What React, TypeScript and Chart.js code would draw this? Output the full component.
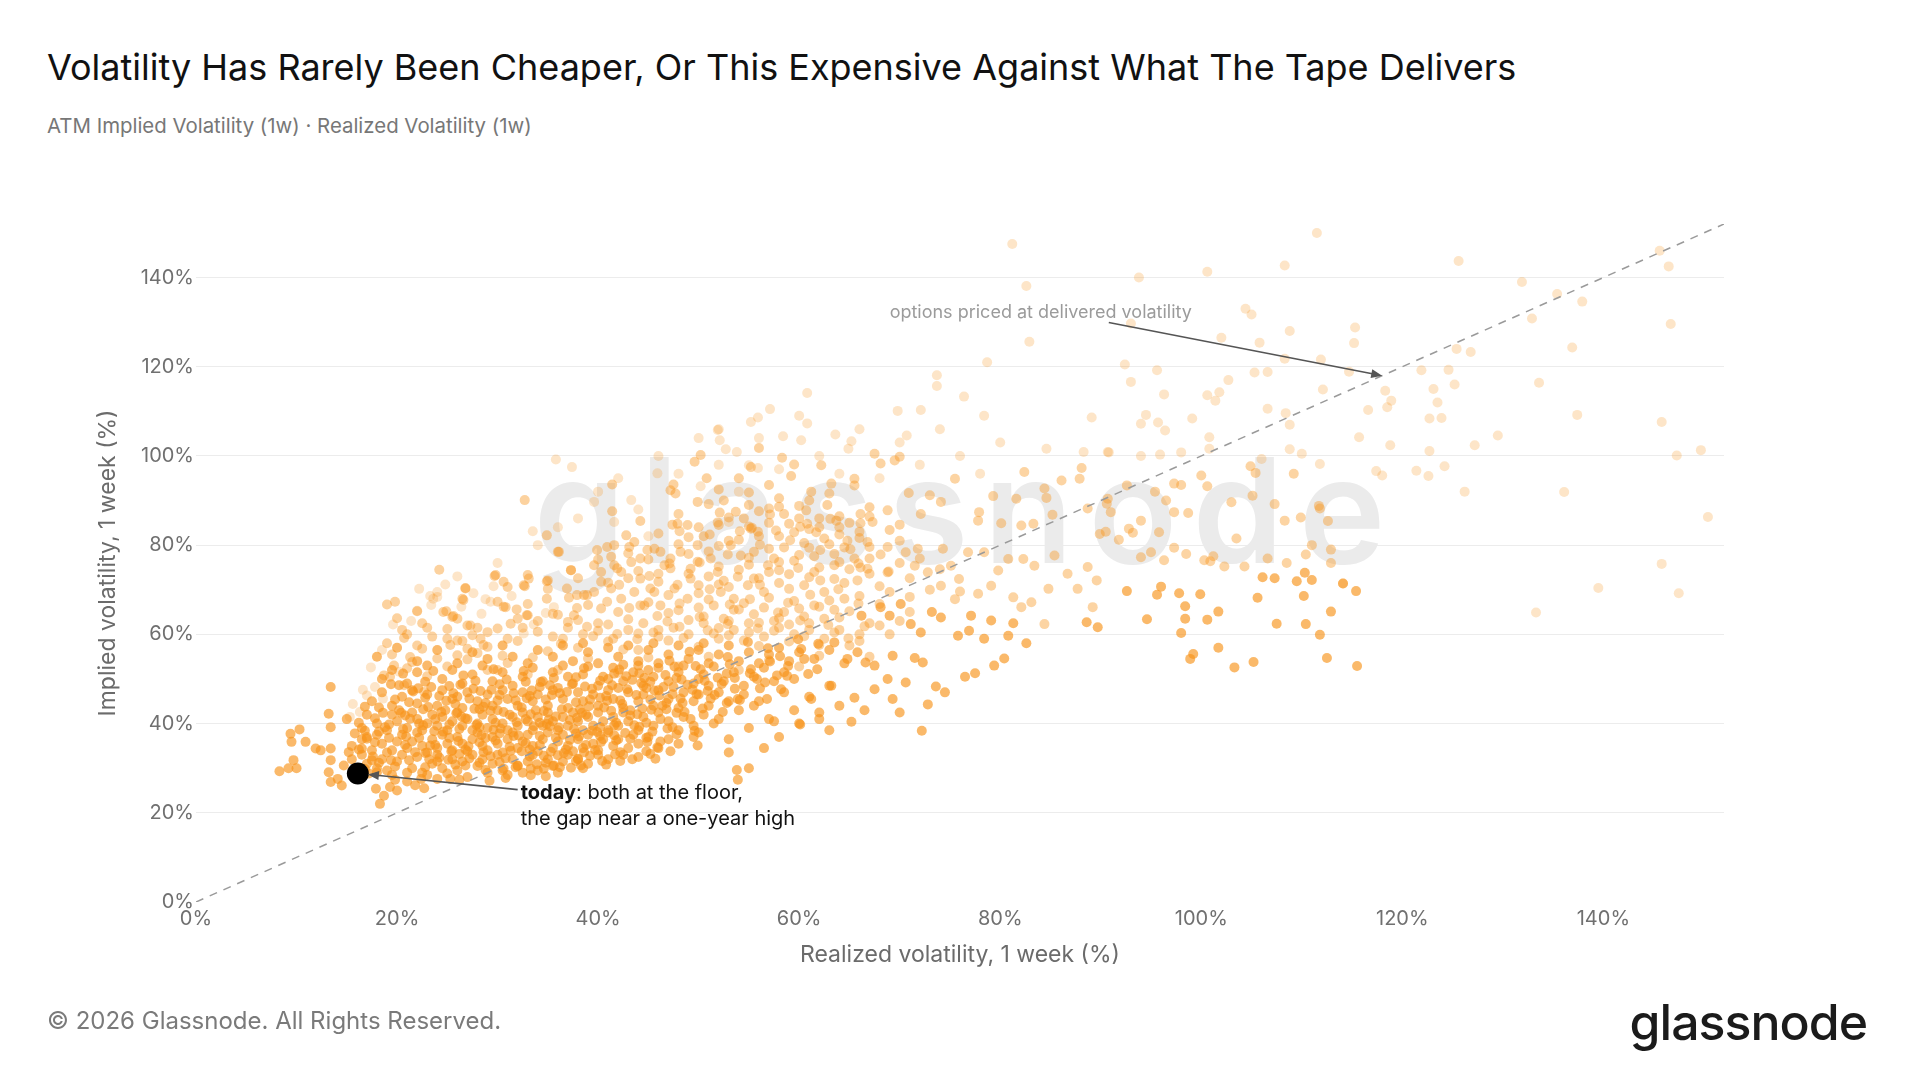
import React, { useEffect, useRef } from "react";
import { Chart, registerables } from "chart.js";

Chart.register(...registerables);

// ---------- text ----------
const TITLE = "Volatility Has Rarely Been Cheaper, Or This Expensive Against What The Tape Delivers";
const SUBTITLE = "ATM Implied Volatility (1w) · Realized Volatility (1w)";
const X_TITLE = "Realized volatility, 1 week (%)";
const Y_TITLE = "Implied volatility, 1 week (%)";
const FOOTER = "© 2026 Glassnode. All Rights Reserved.";
const BRAND = "glassnode";
const PARITY_NOTE = "options priced at delivered volatility";
const TODAY_BOLD = "today";
const TODAY_LINE1 = ": both at the floor,";
const TODAY_LINE2 = "the gap near a one-year high";

// ---------- axes ----------
const AXIS_MIN = 0;
const AXIS_MAX = 152;
const TICK_STEP = 20;

// ---------- data (realized %, implied %) pairs ----------
// today's reading
const todayPoint = [16.1, 28.8];
// parity line (implied = realized)
const parityLine = [0, 0, 152, 152];

// most recent observations (strong)
const recentLowLeft = [
  8.3,29.3, 9.4,37.7, 10.3,38.7, 9.5,35.9, 9.7,31.8, 9.2,30, 10,30, 10.9,35.9, 11.9,34.4, 12.4,34,
  13.4,48.2, 13.2,42.2, 13.4,39.2, 13.4,34.4, 13.4,31.8, 13.2,29.1, 13.4,26.9, 14.1,27.6, 14.5,26.1,
  14.7,30.6, 15.2,33.6, 16.5,34.4, 17,36.6, 17.5,31.8, 18,29.1, 17.9,25.4, 18.7,23.8, 18.3,22, 19.3,25.8,
  20,25, 21,27, 22.7,25.5, 24,27.6, 25.3,27.6, 30.6,29.9, 32,30.6, 33.3,28.4, 34.6,29.9, 35.6,30.6,
  33.3,29.9, 36,32.9, 38,32.1, 38.3,30.6, 40.3,35.9, 41.6,37.4, 44.9,35.9, 45.9,34.7, 45.7,32.1,
  49.9,35.1, 46.9,38.9, 48.6,42.6, 53.9,27.4, 53.8,29.6,
];
const recentCoreA = [
  17,31, 18.5,32, 19,29.5, 20,31.5, 20.5,33, 21.5,30, 22,32.5, 22.5,29, 23.5,31, 24,33, 24.5,30, 25.5,32,
  26,29.5, 26.5,31.5, 27.5,33, 28,30.5, 28.5,32, 29.5,31, 30,33, 30.5,29.5, 31.5,32, 32,30.5, 33,31.5,
  33.5,33, 34,29.5, 35,32, 35.5,30.5, 36.5,31.5, 37,33, 38,32, 39,31, 40,33, 41,32, 42.5,33, 44,32.5,
  19.5,28.5, 23,28.5, 27,28, 31,28.5, 18,30, 21,29, 25,28.8, 29,29, 32.5,29, 36,29, 38.5,30, 16.5,33,
  15.5,32, 24,31.5, 28.2,31.2,
  15.5,35, 16.5,36.5, 17.5,34, 18,37.5, 18.5,35.5, 19.5,34, 20,36, 20.5,37.5, 21,34.5, 21.5,36, 22,38,
  22.5,35, 23,33.5, 23.5,36.5, 24,34.5, 24.5,37.5, 25,35.5, 25.5,34, 26,37, 26.5,35.5, 27,33.8, 27.5,36.5,
  28,38, 28.5,35, 29,34, 29.5,37, 30,35.5, 30.5,33.5, 31,36.5, 31.5,38, 32,34.5, 32.5,36, 33,37.5,
  33.5,35, 34,33.8, 34.5,36.5, 35,38, 35.5,34.5, 36,36, 36.5,37.5, 37,35, 37.5,33.8, 38,36.5, 38.5,34.5,
  39,37.5, 39.5,35.5, 40,34, 40.5,36.5, 41,38, 41.5,35, 42,36.5, 43,34.5, 43.5,37.5, 44,35.5, 45,37,
  46,34.5, 47,36.5, 48,35.5, 49.5,37, 19,33.5, 22.8,33.4, 26.2,33.2, 30.2,37.8, 34.2,37.2, 37.8,37.8,
  42.2,33.6, 44.8,33.8, 17,37, 28.8,36.8, 33.2,34.2, 36.8,34.2,
];
const recentCoreB = [
  15,41, 16.5,39, 17,42, 18,40, 19,38.5, 19.5,42, 20,40.5, 21,39, 21.5,42.5, 22,41, 22.5,38.5, 23,40,
  23.5,42, 24,39.5, 24.5,41.5, 25,38.5, 25.5,40.5, 26,42.5, 26.5,39.5, 27,41, 27.5,38.5, 28,40, 28.5,42,
  29,39, 29.5,41, 30,43, 30.5,40, 31,38.5, 31.5,41.5, 32,39.5, 32.5,42.5, 33,40.5, 33.5,38.5, 34,41.5,
  34.5,39.5, 35,42.5, 35.5,40.5, 36,38.5, 36.5,41.5, 37,39.5, 37.5,42.5, 38,40.5, 38.5,38.5, 39,41.5,
  39.5,39.5, 40,42.5, 40.5,40.5, 41,38.5, 41.5,41.5, 42,39.5, 42.5,42.5, 43,40.5, 44,38.5, 44.5,41.5,
  45.5,39.5, 46,42.5, 47,40.5, 48,38.5, 48.5,41.5, 49.5,39.5, 50.5,42, 51.5,40, 20.2,43, 24.8,43,
  28.2,43.2, 33.8,43, 38.2,43.2, 43.2,43, 46.8,43.2, 18.2,38.2,
  17.5,45, 18.5,47, 19.5,44, 20.5,46, 21.5,47.5, 22,44.5, 23,46.5, 24,44, 24.5,47.5, 25.5,45.5, 26.5,43.5,
  27,47, 28,45, 29,46.5, 29.5,44, 30.5,47.5, 31,45.5, 32,44, 32.5,47, 33.5,45, 34,46.5, 35,44, 35.5,47.5,
  36.5,45.5, 37,43.5, 38,47, 38.5,45, 39.5,46.5, 40,44, 41,47.5, 41.5,45.5, 42.5,43.5, 43,47, 44,45,
  44.5,46.5, 45.5,44, 46,47.5, 47,45.5, 48,43.5, 48.5,47, 49.5,45, 50,46.5, 51,44, 52,47, 53,45, 54.5,46.5,
  55.5,44, 36,48, 42,48, 46.5,48.2, 26,46, 30,45.2, 34.2,48.2, 40.2,45.8, 44.8,48,
];
const recentCoreC = [
  18.5,50, 19.5,52, 21,49, 22,51.5, 23,53, 24.5,50, 25.5,52, 26.5,49, 27.5,51, 28.5,53, 29.5,49.5,
  30.5,51.5, 31.5,48.5, 32.5,50.5, 33.5,52.5, 34.5,49.5, 35.5,51.5, 36.5,53, 37.5,49, 38.5,51, 39,52.8,
  40,48.5, 40.5,50.5, 41.5,52.5, 42.5,49.5, 43.5,51.5, 44.5,48.5, 45.5,50.5, 46,52.5, 47,49.5, 48,51.5,
  48.5,53, 49.5,49, 50.5,51, 51.5,52.8, 52.5,49.5, 53.5,51.5, 54.5,48.5, 55.5,50.5, 56.5,52.5, 57.5,49.5,
  58.5,51.5, 59.5,50, 44,53, 47.5,48.2, 51,48.5, 37,50.5, 41,50, 45,52, 50,50,
  18,55, 20,57, 22,54, 24,56.5, 26,53.5, 27.5,56, 29,54.5, 30.5,57.5, 31.5,55, 33,53.5, 34,56.5, 35.5,55,
  36.5,57.5, 37.5,54, 39,56, 40,53.5, 41,57, 42,55, 43,57.5, 44,54, 45,56.5, 46,53.5, 47,55.5, 48,57.5,
  49,54.5, 50,56.5, 51,53.5, 52,55.5, 53,57.5, 54,54, 55,56, 56,53.5, 57,55.5, 58,57, 59,54, 60,56,
  61.5,54.5, 63,56.5, 64.5,53.5, 45.5,58, 50.5,58, 38.5,58, 42.5,53.2,
  50,38, 52,41, 53,36.5, 54,43, 55,39, 56,45, 57,41, 58,37, 58.5,47, 59.5,43, 60,40, 61,46, 62,42.5,
  63,48.5, 64,44, 53,33.5, 55,30, 56.5,34.5, 72.2,38.4, 65.2,40.4, 60.1,39.8, 62,41, 66.5,43, 70,42.5,
  74.5,47, 76.5,50.5, 57.5,40.5, 63,38.5,
];
const recentCoreD = [
  16.8,29.8, 18.2,31.2, 19.8,30.4, 21.2,31.8, 22.8,30.2, 24.2,32.4, 25.8,30.8, 27.2,32.2, 28.8,29.6,
  30.2,31.4, 31.8,30.2, 33.2,32.6, 34.8,31.2, 36.2,30.2, 37.8,31.6, 39.2,32.8, 40.8,30.8, 42.2,31.6,
  16.2,34.2, 17.8,35.8, 19.2,36.8, 20.8,35.2, 22.2,36.8, 23.8,35.2, 25.2,36.8, 26.8,34.2, 28.2,35.8,
  29.8,36.2, 31.2,34.8, 32.8,35.6, 34.2,35.2, 35.8,36.8, 37.2,36.4, 38.8,35.2, 40.2,37.2, 41.8,36.2,
  43.2,36.6, 44.8,36.8, 46.2,36, 47.8,37.6,
  16.2,40.2, 17.8,41.2, 19.2,39.8, 20.8,41.8, 22.2,40, 23.8,41, 25.2,39.8, 26.8,41.2, 28.2,39.2,
  29.8,40.2, 31.2,42, 32.8,41, 34.2,40.2, 35.8,41.6, 37.2,40.8, 38.8,42, 40.2,39.2, 41.8,40.2, 43.2,41.8,
  44.8,40.2, 46.2,41, 47.8,42.4, 49.2,41,
  18.2,43.6, 19.8,45.4, 21.2,44.8, 22.8,45.8, 24.2,46.2, 25.8,44.4, 27.2,45.6, 28.8,44.6, 30.2,46.4,
  31.8,45.2, 33.2,46.2, 34.8,45.4, 36.2,46.8, 37.8,44.8, 39.2,45.4, 40.8,46.2, 42.2,45.2, 43.8,46.4,
  45.2,45.4, 46.8,44.6, 48.2,45.6, 49.8,46.6, 51.2,45.6, 52.8,44.6,
  20.2,48.6, 22.8,49.4, 25.2,48.4, 27.8,49.6, 30.2,48.8, 32.8,49.4, 35.2,48.6, 37.8,50.4, 40.2,49.6,
  42.8,50.6, 45.2,49.4, 47.8,50.2, 50.2,52.2, 52.8,51.2, 55.2,52.2, 57.8,50.8,
];
const recentCoreE = [
  17.6,32.6, 19.4,31.8, 21.8,33.6, 23.2,32, 25.4,33.8, 26.8,30.6, 28.6,33.6, 30.8,32.2, 32.4,33.8,
  34.6,32.8, 36.6,33.4, 38.6,33.6, 40.4,31.6, 43.4,32, 45.2,33.2, 47.2,33.8,
  16.8,38.4, 18.8,39.2, 20.6,38.8, 22.6,39.6, 24.6,38.2, 26.2,38.8, 28.4,37.4, 29.6,38.6, 31.6,37.2,
  33.6,39.4, 35.2,39.4, 37.6,38.8, 39.4,38.4, 41.6,39.6, 43.6,39.6, 45.4,38.2, 47.4,39.2, 49.6,38.4,
  18.6,42.4, 20.4,42.4, 22.6,43.2, 24.4,42.6, 26.4,41.6, 28.6,43.8, 30.6,42.6, 32.4,43.6, 34.6,42.8,
  36.4,43.2, 38.4,42.4, 40.6,43.6, 42.4,44.4, 44.4,43.4, 46.4,44, 48.4,44.6, 50.4,43.4, 52.4,42.6,
  19.4,48.8, 21.6,47.2, 23.4,48.2, 25.6,46.8, 27.6,47.8, 29.4,47.6, 31.6,46.8, 33.4,47.4, 35.4,46.4,
  37.4,48.8, 39.4,47.8, 41.4,48.6, 43.4,49.8, 45.6,47.4, 47.4,46.6, 49.4,47.6, 51.6,46.4, 53.6,47.8,
  20.6,51.2, 23.6,51.8, 26.6,50.8, 29.6,52.2, 32.6,51.8, 35.6,50.2, 38.6,52.4, 41.6,51.2, 44.6,50.2,
  47.6,52.8, 50.6,49.6, 53.6,50.2, 56.6,49.2,
  15.8,37.8, 16.8,43.8, 17.2,28.8, 19.8,27.4, 22.4,27.6, 26.2,27.4, 30.8,27.8, 34.8,28.2, 29.2,27.2, 21.8,26.2,
];
const recentCoreF = [
  20.9,37.1, 23.7,38.3, 26.1,36.1, 27.9,39.7, 30.3,38.9, 32.1,37.3, 34.9,39.9, 36.1,39.1, 38.1,37.1,
  39.9,38.1, 42.7,37.9, 44.1,39.3,
  21.3,41.1, 23.1,43.7, 25.9,42.3, 27.7,43.3, 29.3,42.9, 31.9,40.3, 33.3,42.1, 35.1,40.9, 37.9,41.3,
  39.1,43.9, 41.3,42.9, 43.9,42.1, 45.3,43.1,
  22.1,47.9, 24.9,45.1, 26.3,48.7, 28.3,47.3, 30.9,49.9, 32.9,45.7, 34.3,49.3, 36.9,47.1, 38.7,48.3,
  40.9,45.1, 42.9,47.7, 44.3,49.1, 46.1,46.3, 48.9,48.7, 50.9,47.3, 52.3,48.9, 54.1,45.3, 56.1,47.9,
  23.3,35.1, 25.1,31.9, 27.1,34.9, 29.3,32.7, 31.3,33.9, 33.9,30.9, 35.3,33.7, 37.3,30.1, 39.7,34.1, 41.7,33.1,
  42.1,52.1, 44.1,51.3, 46.7,50.9, 48.3,49.9, 49.7,52.9, 51.9,50.3, 53.1,53.3, 55.1,51.3, 57.1,53.9,
  58.9,52.9, 60.9,51.1, 47.1,54.1, 49.1,56.1, 52.9,54.9, 56.9,56.9, 54.9,58.3, 58.1,55.1, 61.9,57.9, 59.9,58.9,
];
const recentBelowParity = [
  73.2,65, 74.1,63.8, 71.1,62.3, 72.1,60.4, 70.1,66.8, 68.1,66.1, 69,64.2, 66.2,64.2, 77.1,64.2, 76.9,60.8,
  79.1,63.1, 81.3,62.5, 80.8,59.7, 88.6,62.7, 89.7,61.6, 82.6,58, 75.8,59.7, 78.4,59, 80.4,54.6, 79.4,53,
  77.5,51.3, 73.6,48.3, 72.8,44.3, 71.5,54.7, 72.3,53.7, 70.6,49.2, 69.3,55.2, 69.3,45.5, 67.5,53, 68.8,50,
  67.5,47.7, 65.8,56, 66.6,53.7, 65.5,45.8, 63.5,58.2, 64.8,54.5, 63.2,48.5, 61.8,52.2, 61.2,45.5,
  60.2,56.7, 60.5,54.5, 58.8,50.7, 58.2,47.7, 55.8,50, 56.8,45.5, 53.9,45.5,
  110.3,73.8, 106.1,72.8, 107.3,72.6, 109.5,71.9, 111,72.2, 114.1,71.4, 115.4,69.7, 92.6,69.7, 96,70.7,
  95.6,68.9, 97.8,69.2, 99.9,69, 105.6,68.2, 110.2,68.6, 112.9,65.1, 98.4,66.3, 98.4,63.5, 101.7,65.1,
  94.6,63.4, 100.6,63.3, 107.5,62.4, 110.4,62.3, 98,60.3, 111.8,59.9, 101.7,57, 99.2,55.6, 98.9,54.5,
  103.3,52.6, 105.2,53.8, 112.5,54.7, 115.5,52.9,
];

// middle-aged observations
const middleUpperBand = [
  21,60, 23,61.5, 25,59, 27,62, 29,60.5, 31,59, 32.5,61.5, 34,63, 35.5,59.5, 37,61.5, 38.5,60, 40,62.5,
  41.5,59, 43,61, 44.5,62.5, 46,59.5, 47.5,61.5, 49,60, 50.5,62.5, 52,59, 53.5,61, 55,62.5, 56.5,59.5,
  58,61.5, 59.5,60, 61,62.5, 62.5,59, 64,61, 66,60, 68,62,
  19.8,67.3, 24.2,74.5, 22,65.2, 24.6,65, 25.5,63.9, 26,63.5, 20.7,59.2, 21.3,54.9, 21.5,53.8, 19.7,53,
  18.7,50.8, 19.3,50.5, 20.7,48.6, 22.5,56.8, 22.7,47.1, 26.6,67.7, 26.8,70.3, 27.3,62, 29.8,73.3,
  30.6,71.8, 32.6,71, 33,73.3, 35,72.1, 36,78.5, 37.3,74.4, 30,67.3, 30.6,66.2, 33,64.3, 32,63.5, 30,61.3,
  31.3,62.4, 28.3,59, 28.6,57.6, 25.3,57.6, 26,55.3, 24,54.6, 27,56.8, 38.6,68.8, 40.3,71.8, 41.6,80,
  43.6,80.7, 41.9,74.8, 44.2,77, 46.2,78.5, 47.2,74.8, 49.9,76.3, 49.2,72.5, 45.2,70.3, 44.6,66.5,
  19,58, 20.5,61, 22,57.5, 23.5,59.5, 25,61.2, 26.5,58.5, 28,61.5, 19.5,55.5, 21,52.4, 23,50.6, 25,52.8,
  27,54.4, 29,52, 31,53.6, 20,63.6, 22.5,62.5, 27.5,59.8,
];
const middleMidBand = [
  32.7,90.1, 41.4,93.6, 50.2,100.2, 49.6,98.7, 56,101.8, 47.5,93.6, 47.7,91.6, 47.2,92.3, 49.9,89.7,
  52.1,87.3, 53.7,87.5, 41.4,87.6, 44.2,85.4, 42.8,82.2, 43.1,79.6, 47.4,84.6, 47.9,84.8, 48.9,84.5,
  51.1,82.4, 55.3,83.9, 55.9,83, 34.9,82.2, 36.1,78.5, 37.3,74.4, 32.7,70.8, 33.1,72.5, 34.9,71.9,
  29.7,73.1, 31,70.6, 26.8,70.4, 26.5,68, 19,66.7, 24.9,65.2, 25.6,64.1, 30.8,66.1, 31.9,65.6, 32.9,64.3,
  37.1,68.2, 37.9,68.8, 38.9,68.8, 39.9,78.9, 40.9,79.6, 41.3,77.4, 39.6,75.5, 40.3,74, 41.6,75.5, 42.3,74,
  43.3,76.2, 44.2,72.5, 45.6,79.2, 46.6,75.5, 47.2,77, 48.2,78.5, 49.2,74.7, 49.9,80, 51.2,77, 51.9,74,
  53.2,80, 54.2,77.7, 55.5,78.5, 56.9,75.5, 52.2,69.5, 53.5,68, 54.9,71, 56.5,69.5, 47.6,70.3, 48.9,68,
  45.6,69.5, 46.2,66.5, 43.6,69.5, 44.2,66.5, 41.3,70.3, 42.3,68, 39.6,69.5, 40.3,65.8, 36.9,70.3,
  37.6,64.3, 34.9,68,
  50.5,64, 51.5,66.5, 52.5,63.5, 53.5,65.5, 54.5,67, 55.5,64.5, 56.5,66, 57.5,63, 58.5,65, 59.5,67.5,
  60.5,64, 61.5,66.5, 62.5,63.5, 63.5,65.5, 64.5,68, 50,71, 51,73, 52.5,72, 54,74.5, 55.5,72.5, 57,74,
  58,71.5, 59,73.5, 60.5,71, 61.5,74, 62.5,69.5, 63.5,75.5, 64.5,71.5, 57.5,77, 58.5,79.5, 59.5,76.5,
  60.5,80.5, 61.5,77.5, 62.5,81.5, 63.5,78, 64.5,79.5, 50.5,82, 52,84.5, 53,81, 54.5,86, 56,82, 57,85,
  58.5,87, 60,86, 62,84, 64,86.5, 66,83, 67,77, 65.5,77, 62.8,89, 58,90.5, 55,89, 52.5,90, 50.8,95,
  61.2,92, 57,93.5, 54,95, 59.2,95.5,
];
const middleFill = [
  30,52, 33,51, 36,52, 39,54.6, 42,51.4, 45,54.8, 48,52.8, 51,55, 54,52, 57,54.2, 60,52.8, 62,55.2, 65,57.5,
  67,55, 29,57.2, 32,58.5, 35,56.2, 38,57, 41,58.4, 44,56.5, 47,58.6, 50,57.2, 53,59.8, 56,57.4, 59,58.4,
  62,57.6, 66,58.5, 69,60, 34,60.6, 37,62.8, 40,60.8, 43,63.4, 46,61, 49,63.2, 52,61.4, 55,60.4, 58,63.6,
  61,61, 64,63.8, 67,62.5, 70,63, 36,64.4, 39,66.6, 42,65, 45,67.2, 48,65.4, 51,67.8, 54,65.6, 57,68.2,
  60,65.8, 63,67.6, 66,68.6, 69,69.5, 43,72.6, 46,71.8, 49,73.6, 52,71.2, 55,75.6, 58,74.4, 61,72.8,
  64,76.2, 67,73.6, 70,76, 45,76.8, 48,80.2, 51,78.6, 54,81.2, 57,79.2, 60,77.8, 63,80.2, 66,81.6, 69,83.4,
  50,84, 53,86.2, 56,87.6, 59,84.8, 62,86, 65,85, 67,88.5, 52,92.5, 55,91.8, 58,88.6, 61,90,
];
const middleFill2 = [
  26,58.6, 28,55.8, 30.5,55.2, 33.5,54.8, 36.5,59, 39.5,59.6, 42.5,56.6, 45.5,60.4, 48.5,59.2, 51.5,60.2,
  54.5,58.6, 57.5,60.8, 60.5,59.6, 63.5,60.4, 66.5,61.8,
  33,66.8, 35.5,64.6, 38,63.2, 41,62.2, 44,60.2, 47,64.8, 50,66, 53,63, 56,62.6, 59,62.2, 62,66.2, 65,65.2,
  68,66.8, 71,65,
  35,70.2, 38,72.6, 41,71.6, 44,74.2, 47,68.8, 50,69.2, 53,70.6, 56,72.6, 59,70.2, 62,75, 65,74.6, 68,70.8,
  71,72.6, 40,76.8, 43,78.2, 46,73.6, 49,78, 52,75.2, 55,77.2, 58,76.2, 61,79.4, 64,82.4, 67,79.6, 70,81,
  46,82.6, 49,81.8, 52,79.8, 55,84.2, 58,82, 61,83.6, 64,84, 67,86.4, 70,84.6, 48,87, 51,89.2, 57,88.2,
  60,88.8, 63,91.6, 71,68.4, 73,70, 72,77, 74,74.6, 76,69.6,
];
const middleFill3 = [
  36.3,57.9, 38.9,61.7, 41.9,60.1, 43.9,58.9, 46.9,62.9, 48.1,61.7, 50.9,60.9, 52.9,62.3, 55.9,61.3,
  57.9,64.9, 60.1,63.1, 62.9,62.1, 64.9,59.1,
  37.9,65.9, 40.9,67.3, 43.1,65.9, 45.9,64.1, 48.1,66.9, 50.1,63.9, 53.1,66.7, 55.1,67.9, 58.9,67.1,
  61.1,68.9, 63.9,70.1, 65.9,66.9,
  42.1,71.1, 45.1,73.1, 47.9,71.1, 51.1,70.1, 53.9,72.9, 56.1,71.1, 59.9,74.9, 62.1,72.1, 65.9,75.9, 68.9,74.1,
  44.9,78.9, 47.1,75.9, 50.1,76.1, 52.9,77.9, 56.1,80.1, 59.1,81.1, 62.1,78.9, 65.1,79.1, 68.1,77.9,
  48.1,83.1, 51.9,85.1, 54.1,83.1, 57.1,86.9, 60.1,84.1, 63.1,85.9, 66.1,84.9,
];
const middleRightBand = [
  58.3,99.6, 59.5,98.1, 55.2,97.5, 62.2,97.9, 67.5,100.5, 70,99.8, 69.5,99, 68.1,98.3, 82.4,96.4, 75.5,94.9,
  88.1,97.3, 87.9,94.9, 86.1,94.5, 65.5,94.9, 65.5,93.4, 63.2,93.8, 70.9,91.7, 73,91.2, 74.1,89.7, 79.3,91,
  81.6,90.4, 84.4,92.7, 84.6,90.6, 90.7,90.4, 60.7,87.8, 63.7,85.5, 66.1,87, 67.3,85.2, 68.8,87.8, 72.1,87,
  77.9,87.4, 77.8,85.5, 80.1,84.9, 82.1,84.4, 83.3,84.8, 85.2,86.8, 88.7,88.2, 89.9,82.5, 55.2,83.7,
  57.7,83.3, 59.5,82.9, 60.8,84.8, 61.7,82.9, 64.8,81, 66.8,80.7, 68.8,79.6, 70.6,78.4, 71.8,79.2,
  74.3,79.2, 75.1,75.4, 76.8,78.4, 78.4,78.4, 79.8,74.3, 80.8,76.9, 82.3,76.9, 83.4,75.4, 85.4,77.7,
  86.7,73.6, 88.7,75.1, 89.6,72.1, 71.5,75.4, 72.8,73.9, 68.8,73.9, 66.8,74.7, 65.8,72.1, 66.1,75,
  63.5,72.4, 74.1,70.9, 75.9,72.4, 77.8,69.1, 79.1,70.9, 81.3,68.3, 82.1,66.1, 83.1,67.2, 87.7,70.2,
  89.2,66.1, 84.8,70.2, 75.5,67.9, 84.4,62.3,
  92.6,93.4, 95.4,92, 96.5,90, 90.6,89.3, 91,87.4, 94,85.5, 97.3,87.4, 98.7,87.2, 103,89.6, 105.1,91.1,
  107.3,89.2, 111.7,88.8, 111.8,88.2, 109.9,86.2, 108.3,85.5, 112.6,85.4, 92.8,83.7, 93.2,82.8, 90.5,83,
  91.8,81.2, 95.8,82.9, 103.5,81.5, 111,80, 97.3,79.4, 112.9,79, 95,78.4, 94,77.3, 96.3,76.6, 98.5,78,
  100.3,76.6, 101.2,77.5, 100.9,76.4, 102.3,75.2, 104.3,75.2, 106.6,77, 108.5,76, 110.4,77.9, 112.9,76,
  105.4,96.2, 104.9,97.7, 109.2,96, 100,95.6, 97.3,93.8, 98,93.5, 100.6,93.2,
];

// older observations (faint)
const olderHigh = [
  111.5,150, 125.6,143.7, 108.3,142.7, 93.8,140, 100.6,141.3, 131.9,139, 146.5,142.5, 145.6,146, 135.4,136.3,
  137.9,134.6, 146.7,129.6, 104.4,133, 105,131.7, 108.8,128, 115.3,128.8, 115.2,125.3, 132.9,130.8,
  136.9,124.3, 125.4,124, 126.8,123.3, 102,126.5, 105.8,125.4, 93,129.7, 108.3,121.8, 111.9,121.6,
  114.7,118.9, 92.4,120.5, 95.6,119.2, 93,116.6, 96.3,113.8, 105.3,118.7, 106.6,118.8, 102.7,117,
  100.6,113.6, 101.4,112.4, 101.8,114.3, 112.1,114.9, 118.3,114.6, 118.9,112.4, 118.5,110.9, 116.6,110.3,
  123.1,115, 125.2,116, 124.6,119.3, 121.9,119.2, 123.5,112, 122.7,108.4, 123.9,108.5, 133.6,116.4,
  137.4,109.2, 145.8,107.6, 129.5,104.6, 127.2,102.4, 147.3,100.1, 149.7,101.3, 106.6,110.6, 108.4,109.6,
  108.8,107, 99.1,108.4, 94,107.2, 94.5,109.2, 95.7,107.5, 96.4,105.7, 100.8,104.2, 115.7,104.2,
  118.8,102.4, 122.7,101.1, 90.8,100.8, 94,100, 95.9,100.3, 98,100.8, 100.8,101.6, 108.8,101.5, 110,100.5,
  106,99.3, 111.8,98.2, 118,95.6, 117.4,96.6, 121.4,96.7, 124.2,97.7, 122.6,95.5, 126.2,92, 136.1,91.9,
  150.4,86.3, 145.8,75.8, 139.5,70.4, 147.5,69.2, 133.3,64.9, 114.1,71.4,
];
const olderMid = [
  81.2,147.5, 82.6,138.1, 82.9,125.6, 78.7,121, 73.7,118.1, 73.7,115.7, 76.4,113.3, 60.8,114.1, 72.1,110.3,
  69.8,110.1, 78.4,109, 89.1,108.6, 57.1,110.5, 55.9,108.6, 55.2,107.6, 60.8,107.3, 70.7,104.6, 63.6,104.8,
  51.9,105.8, 58.4,104.4, 60.2,103.5, 65.2,103.3, 64.9,101.6, 52.7,101.5, 53.8,100.9, 84.6,101.6,
  88.3,100.9, 90.7,100.9,
  35.8,99.2, 37.4,97.5, 52,106, 52.1,103.5, 55,97.9, 55.9,97.3, 50.2,93.2, 45.9,96.1, 39.6,89.7, 43.3,90.1,
  41.6,85.2, 53,85.2, 33.5,83.1, 23.3,68.6, 24,69.5, 22,65.3, 28.8,67.9, 29.3,67.3, 35.6,66.1,
  15.3,41.5, 16.3,42.6, 17,46.3, 23.6,68, 24,68.4,
  38,86, 40,92, 42,95, 44,88, 46,100, 48,96, 50,104, 52,98, 54,92, 56,104, 58,97, 60,109, 62,100, 64,96,
  66,106, 68,95, 70,103, 72,98, 74,106, 76,100, 78,96, 80,103, 45,82, 36,84, 30,76, 26,73, 34,80,
];
const olderLowLeft = [
  18.5,56.5, 19.6,62.2, 21.4,63, 22.2,70.2, 23.4,66.6, 24.8,71.2, 26.4,66.2, 27.6,69.2, 28.4,64.6,
  29.6,70.8, 31.4,68.6, 32.6,60.2, 33.6,62.2, 34.8,64.8, 20.2,51.6, 17.8,48.2, 18.6,45.6, 16.6,47.6,
  15.6,44.4, 17.4,52.6,
];

// ---------- helpers ----------
const toPoints = (flat: number[]) => {
  const out: { x: number; y: number }[] = [];
  for (let i = 0; i < flat.length; i += 2) out.push({ x: flat[i], y: flat[i + 1] });
  return out;
};

const ORANGE = "247,147,26";
const FONT = "Inter, 'Noto Sans', sans-serif";

function drawArrow(ctx: CanvasRenderingContext2D, x1: number, y1: number, x2: number, y2: number, color: string) {
  const ang = Math.atan2(y2 - y1, x2 - x1);
  const head = 11;
  const half = 4.5;
  ctx.save();
  ctx.strokeStyle = color;
  ctx.fillStyle = color;
  ctx.lineWidth = 1.6;
  ctx.beginPath();
  ctx.moveTo(x1, y1);
  ctx.lineTo(x2 - Math.cos(ang) * head * 0.8, y2 - Math.sin(ang) * head * 0.8);
  ctx.stroke();
  ctx.beginPath();
  ctx.moveTo(x2, y2);
  ctx.lineTo(x2 - Math.cos(ang) * head - Math.sin(ang) * half, y2 - Math.sin(ang) * head + Math.cos(ang) * half);
  ctx.lineTo(x2 - Math.cos(ang) * head + Math.sin(ang) * half, y2 - Math.sin(ang) * head - Math.cos(ang) * half);
  ctx.closePath();
  ctx.fill();
  ctx.restore();
}

// watermark placement in data units
const watermarkLeft = 33.6;
const watermarkRight = 118.3;
const watermarkBaseline = 76.1;
const WATERMARK_SIZE = 146;

const watermarkPlugin = {
  id: "gnWatermark",
  beforeDatasetsDraw(chart: any) {
    const { ctx, scales } = chart;
    const xs = scales.x;
    const ys = scales.y;
    ctx.save();
    ctx.font = `600 ${WATERMARK_SIZE}px ${FONT}`;
    const w = ctx.measureText(BRAND).width;
    const left = xs.getPixelForValue(watermarkLeft);
    const right = xs.getPixelForValue(watermarkRight);
    const extra = (right - left - w) / (BRAND.length - 1);
    ctx.fillStyle = "#ebebeb";
    ctx.textAlign = "left";
    ctx.textBaseline = "alphabetic";
    const base = ys.getPixelForValue(watermarkBaseline);
    let cx = left;
    for (const ch of BRAND) {
      ctx.fillText(ch, cx, base);
      cx += ctx.measureText(ch).width + extra;
    }
    ctx.restore();
  },
};

// annotation anchors in data units
const parityNoteAt = [69.0, 132.2];
const parityArrowFrom = [90.8, 129.9];
const parityArrowTo = [118, 118];
const todayNoteAt = [32.3, 24.4];
const todayNoteLine2 = 18.6;
const todayArrowFrom = [32.0, 25.2];
const todayArrowTo = [17.1, 28.6];

const annotationPlugin = {
  id: "gnAnnotations",
  afterDatasetsDraw(chart: any) {
    const { ctx, scales } = chart;
    const px = (v: number) => scales.x.getPixelForValue(v);
    const py = (v: number) => scales.y.getPixelForValue(v);
    ctx.save();
    ctx.font = `400 18px ${FONT}`;
    ctx.fillStyle = "#9b9b9b";
    ctx.textAlign = "left";
    ctx.textBaseline = "middle";
    ctx.fillText(PARITY_NOTE, px(parityNoteAt[0]), py(parityNoteAt[1]));
    drawArrow(ctx, px(parityArrowFrom[0]), py(parityArrowFrom[1]), px(parityArrowTo[0]), py(parityArrowTo[1]), "#555555");

    drawArrow(ctx, px(todayArrowFrom[0]), py(todayArrowFrom[1]), px(todayArrowTo[0]), py(todayArrowTo[1]), "#555555");
    const tx = px(todayNoteAt[0]);
    ctx.fillStyle = "#111111";
    ctx.font = `700 20px ${FONT}`;
    ctx.fillText(TODAY_BOLD, tx, py(todayNoteAt[1]));
    const bw = ctx.measureText(TODAY_BOLD).width;
    ctx.font = `400 20px ${FONT}`;
    ctx.fillText(TODAY_LINE1, tx + bw, py(todayNoteAt[1]));
    ctx.fillText(TODAY_LINE2, tx, py(todayNoteLine2));
    ctx.restore();
  },
};

const keepStepTicks = (scale: any) => {
  scale.ticks = scale.ticks.filter((t: any) => t.value % TICK_STEP === 0);
};

export default function App() {
  const canvasRef = useRef<HTMLCanvasElement | null>(null);

  useEffect(() => {
    if (!canvasRef.current) return;
    const scatterDs = (label: string, flat: number[], alpha: number, order: number) => ({
      type: "scatter" as const,
      label,
      data: toPoints(flat),
      backgroundColor: `rgba(${ORANGE},${alpha})`,
      borderWidth: 0,
      pointRadius: 5,
      order,
    });
    const chart = new Chart(canvasRef.current, {
      type: "scatter",
      data: {
        datasets: [
          {
            type: "scatter",
            label: "today",
            data: toPoints(todayPoint),
            backgroundColor: "#000000",
            borderWidth: 0,
            pointRadius: 11,
            order: 0,
          } as any,
          {
            type: "line",
            label: "parity",
            data: toPoints(parityLine),
            borderColor: "#9a9a9a",
            borderWidth: 1.5,
            borderDash: [8, 7],
            pointRadius: 0,
            fill: false,
            order: 1,
          } as any,
          scatterDs("recent low-left", recentLowLeft, 0.65, 2),
          scatterDs("recent core A", recentCoreA, 0.65, 2),
          scatterDs("recent core B", recentCoreB, 0.65, 2),
          scatterDs("recent core C", recentCoreC, 0.65, 2),
          scatterDs("recent core D", recentCoreD, 0.65, 2),
          scatterDs("recent core E", recentCoreE, 0.65, 2),
          scatterDs("recent core F", recentCoreF, 0.65, 2),
          scatterDs("recent below parity", recentBelowParity, 0.65, 2),
          scatterDs("middle upper", middleUpperBand, 0.42, 3),
          scatterDs("middle mid", middleMidBand, 0.42, 3),
          scatterDs("middle fill", middleFill, 0.42, 3),
          scatterDs("middle fill 2", middleFill2, 0.4, 3),
          scatterDs("middle fill 3", middleFill3, 0.4, 3),
          scatterDs("middle right", middleRightBand, 0.4, 3),
          scatterDs("older high", olderHigh, 0.24, 4),
          scatterDs("older mid", olderMid, 0.24, 4),
          scatterDs("older low-left", olderLowLeft, 0.24, 4),
        ],
      },
      options: {
        responsive: false,
        animation: false,
        devicePixelRatio: 1,
        events: [],
        layout: { padding: { left: 0, right: 196, top: 224, bottom: 100 } },
        plugins: { legend: { display: false }, tooltip: { enabled: false } },
        scales: {
          x: {
            type: "linear",
            min: AXIS_MIN,
            max: AXIS_MAX,
            afterBuildTicks: keepStepTicks,
            afterFit: (s: any) => {
              s.height = 78;
            },
            ticks: {
              stepSize: TICK_STEP,
              padding: 5,
              color: "#707070",
              font: { family: FONT, size: 20 },
              callback: (v: any) => `${v}%`,
            },
            grid: { display: false, drawTicks: false },
            border: { display: false },
            title: {
              display: true,
              text: X_TITLE,
              color: "#6b6b6b",
              font: { family: FONT, size: 23 },
              padding: { top: 0, bottom: 11 },
            },
          },
          y: {
            type: "linear",
            min: AXIS_MIN,
            max: AXIS_MAX,
            afterBuildTicks: keepStepTicks,
            afterFit: (s: any) => {
              s.width = 196;
            },
            ticks: {
              stepSize: TICK_STEP,
              padding: 2,
              color: "#707070",
              font: { family: FONT, size: 20 },
              callback: (v: any) => `${v}%`,
            },
            grid: {
              drawTicks: false,
              lineWidth: 1,
              color: (c: any) => (c.tick && c.tick.value === 0 ? "rgba(0,0,0,0)" : "#ececec"),
            },
            border: { display: false },
            title: {
              display: true,
              text: Y_TITLE,
              color: "#6b6b6b",
              font: { family: FONT, size: 23 },
              padding: { top: 94, bottom: 0 },
            },
          },
        },
      } as any,
      plugins: [watermarkPlugin, annotationPlugin],
    });
    return () => chart.destroy();
  }, []);

  return (
    <div
      style={{
        position: "absolute",
        left: 0,
        top: 0,
        width: 1920,
        height: 1080,
        background: "#ffffff",
        overflow: "hidden",
        fontFamily: FONT,
      }}
    >
      <div style={{ position: "absolute", left: 47, top: 46, fontSize: 36, lineHeight: "42px", color: "#111", whiteSpace: "nowrap" }}>
        {TITLE}
      </div>
      <div style={{ position: "absolute", left: 47, top: 113, fontSize: 20.4, lineHeight: "26px", color: "#777", whiteSpace: "nowrap" }}>
        {SUBTITLE}
      </div>
      <canvas ref={canvasRef} width={1920} height={1080} style={{ position: "absolute", left: 0, top: 0, width: 1920, height: 1080 }} />
      <div style={{ position: "absolute", left: 47, top: 1006, fontSize: 24, lineHeight: "30px", color: "#7a7a7a", whiteSpace: "nowrap" }}>
        {FOOTER}
      </div>
      <div
        style={{
          position: "absolute",
          right: 53,
          top: 994,
          fontSize: 50,
          fontWeight: 500,
          lineHeight: "56px",
          color: "#1b1b1b",
          letterSpacing: "-1px",
          whiteSpace: "nowrap",
        }}
      >
        {BRAND}
      </div>
    </div>
  );
}
